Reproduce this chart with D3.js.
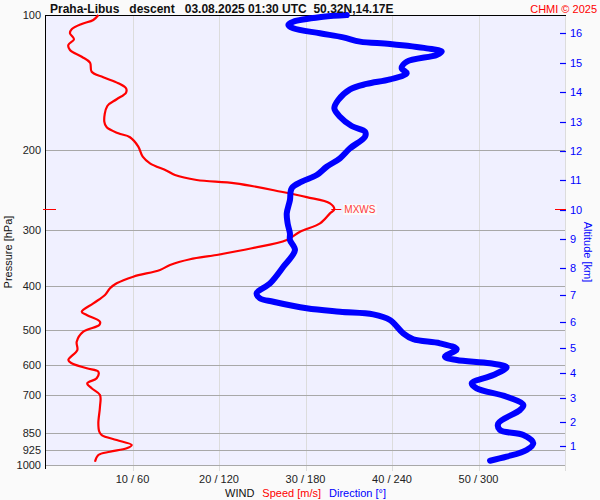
<!DOCTYPE html>
<html><head><meta charset="utf-8">
<script src="https://cdn.jsdelivr.net/npm/d3@7"></script>
<style>
body{margin:0;background:#fafafa;}
text{font-family:Arial,"Liberation Sans",sans-serif;}
</style>
</head><body>
<svg id="c" width="600" height="500"></svg>
<script>
// ---- data ----
const speedPressure = [100,102.6,104.7,107.6,109.8,113.2,116.6,119.6,123.8,127.6,133.7,137.5,141.8,145.5,148.8,153.9,159.3,172.6,177.7,183.2,186.9,196.1,206.5,213.6,221.8,226.8,232.6,236.6,247.0,253.9,262.1,270.3,275.9,290.4,303.1,316.2,329.9,341.4,349.0,359.4,368.6,381.5,394.7,404.9,419.0,437.2,456.4,464.2,480.4,488.6,505.6,532.2,555.3,584.5,594.3,609.7,620.4,641.7,658.3,675.4,699.0,742.1,808.0,843.4,857.8,880.2,902.7,918.1,934.2,950.2,983.3];
const speedValues = [6.05,5.47,4.13,2.97,2.77,3.24,2.58,2.77,4.13,5.09,5.28,6.62,8.36,9.25,9.25,8.17,7.09,6.74,7.02,8.36,9.71,10.67,11.18,12.02,13.95,14.91,17.42,21.9,27.2,30.14,32.83,33.33,32.83,31.68,29.36,27.83,23.8,19.73,16.65,14.34,13.18,10.09,8.17,7.4,6.82,5.47,4.13,4.71,6.24,6.16,4.31,3.55,3.62,2.58,2.97,4.71,6.05,5.86,4.77,5.28,6.24,6.24,6.05,6.16,6.44,8.17,9.91,9.33,7.4,6.05,5.66];
const dirPressure = [100,100.9,103.5,105.2,107.0,109.8,112.1,114.6,116.0,118.6,120.6,122.7,127.0,131.3,134.7,139.0,142.3,146.3,154.5,161.2,168.3,176.5,181.7,186.4,197.8,208.2,217.4,226.8,234.6,242.7,257.8,275.9,290.4,305.6,316.2,332.8,362.6,394.7,415.4,426.3,433.7,448.6,456.4,462.6,476.2,509.7,525.6,536.5,553.2,574.5,584.5,594.3,606.6,631.0,658.3,675.4,705.0,735.6,754.6,808.0,836.2,857.8,894.6,926.0,958.3,978.3];
const dirValues = [208.6,192.3,171.5,168.1,171.5,190.0,206.2,217.8,238.6,264.1,274.5,271.0,250.2,246.7,250.2,238.6,222.4,210.9,202.7,200.0,203.9,212.0,221.3,221.3,210.9,203.9,194.7,187.8,177.4,170.4,169.2,167.0,167.6,169.2,169.2,172.7,164.6,155.4,146.1,148.4,157.7,180.8,203.9,227.0,238.6,247.8,254.8,273.3,284.9,276.7,284.9,308.0,319.5,310.3,295.3,298.7,319.5,331.1,328.8,313.7,314.9,331.1,338.0,333.4,319.5,308.0];
const pressureTicks = [100,200,300,400,500,600,700,850,925,1000];
const windTicks = [10,20,30,40,50,60];
const windTickLabels = ["10 / 60","20 / 120","30 / 180","40 / 240","50 / 300",""];
const altitudeKm = [16,15,14,13,12,11,10,9,8,7,6,5,4,3,2,1];
const altitudePressure = [109.8,127.6,148.1,172.9,200.6,232.6,271.3,315.1,365.5,419.0,481.8,550.6,625.6,710.8,803.9,907.4];
const maxWindPressure = 270.3;
const maxWindSpeed = 33.33;
const titleText = "Praha-Libus   descent   03.08.2025 01:30 UTC  50.32N,14.17E";

// ---- layout ----
const L = 45, R = 565, T = 15, B = 465;
const svg = d3.select("#c");
const y = d3.scaleLog().domain([100,1000]).range([T,B]);
const xs = d3.scaleLinear().domain([0,60]).range([L+1,R]);
const xd = d3.scaleLinear().domain([0,360]).range([L+1,R]);
const c = v => Math.round(v)+0.5;

svg.append("rect").attr("x",L).attr("y",T).attr("width",R-L).attr("height",B-T).attr("fill","#f0f0ff");

// vertical grid
svg.append("g").selectAll("line").data(windTicks).join("line")
  .attr("x1",d=>c(xs(d))).attr("x2",d=>c(xs(d))).attr("y1",T).attr("y2",B+6)
  .attr("stroke","#dcdcdc").attr("stroke-width",1);
// horizontal grid
svg.append("g").selectAll("line").data(pressureTicks.filter(p=>p>100)).join("line")
  .attr("x1",L).attr("x2",R).attr("y1",d=>c(y(d))).attr("y2",d=>c(y(d)))
  .attr("stroke","#a8a8a8").attr("stroke-width",1);

// axes lines
svg.append("line").attr("x1",L).attr("x2",R+1).attr("y1",c(T)).attr("y2",c(T)).attr("stroke","#000");
svg.append("line").attr("x1",c(L)).attr("x2",c(L)).attr("y1",T).attr("y2",B+4).attr("stroke","#000");

// pressure labels
svg.append("g").selectAll("text").data(pressureTicks).join("text")
  .attr("x",41).attr("y",d=>y(d)+4).attr("text-anchor","end")
  .attr("font-size",11).attr("fill","#222").text(d=>d);

// wind tick labels
svg.append("g").selectAll("text").data(windTicks).join("text")
  .attr("x",d=>xs(d)).attr("y",483).attr("text-anchor","middle")
  .attr("font-size",11).attr("fill","#222").text((d,i)=>windTickLabels[i]);

// altitude ticks
const ag = svg.append("g");
ag.selectAll("line").data(altitudePressure).join("line")
  .attr("x1",560).attr("x2",566).attr("y1",d=>c(y(d))).attr("y2",d=>c(y(d)))
  .attr("stroke","#0000ff").attr("stroke-width",1.2);
ag.selectAll("text").data(altitudeKm).join("text")
  .attr("x",570).attr("y",(d,i)=>y(altitudePressure[i])+4)
  .attr("font-size",11).attr("fill","#0000ff").text(d=>d);

// curves
const speedLine = d3.line().x(d=>xs(d[1])).y(d=>y(d[0])).curve(d3.curveCatmullRom.alpha(0.5));
const dirLine = d3.line().x(d=>xd(d[1])).y(d=>y(d[0])).curve(d3.curveCatmullRom.alpha(0.5));
svg.append("path").datum(speedPressure.map((p,i)=>[p,speedValues[i]]))
  .attr("d",speedLine).attr("fill","none").attr("stroke","#ff0000").attr("stroke-width",2.2).attr("stroke-linejoin","round");
svg.append("path").datum(dirPressure.map((p,i)=>[p,dirValues[i]]))
  .attr("d",dirLine).attr("fill","none").attr("stroke","#0000ff").attr("stroke-width",6).attr("stroke-linejoin","round").attr("stroke-linecap","round");

// max wind markers
const ym = c(y(maxWindPressure));
svg.append("line").attr("x1",43).attr("x2",56).attr("y1",ym).attr("y2",ym).attr("stroke","#ff0000");
svg.append("line").attr("x1",555).attr("x2",566).attr("y1",ym).attr("y2",ym).attr("stroke","#ff0000");
svg.append("line").attr("x1",xs(maxWindSpeed)-3).attr("x2",xs(maxWindSpeed)+7).attr("y1",ym).attr("y2",ym).attr("stroke","#ff0000");
const mg = svg.append("g");
const mrect = mg.append("rect").attr("fill","#fafafa");
const mt = mg.append("text").attr("x",xs(maxWindSpeed)+10).attr("y",ym+3.5)
  .attr("font-size",10).attr("fill","#ff3b3b").text("MXWS");
const bb = mt.node().getBBox();
mrect.attr("x",bb.x-1).attr("y",bb.y).attr("width",bb.width+2).attr("height",bb.height);

// titles
svg.append("text").attr("x",50).attr("y",13).attr("font-size",12).attr("font-weight","bold")
  .attr("fill","#111").style("white-space","pre").text(titleText);
svg.append("text").attr("x",597).attr("y",13).attr("text-anchor","end").attr("font-size",11)
  .attr("fill","#ff0000").text("CHMI \u00a9 2025");

svg.append("text").attr("transform","translate(12,252) rotate(-90)").attr("text-anchor","middle")
  .attr("font-size",11).attr("fill","#111").text("Pressure [hPa]");
svg.append("text").attr("transform","translate(584,252) rotate(90)").attr("text-anchor","middle")
  .attr("font-size",11).attr("fill","#0000ff").text("Altitude [km]");

const bl = svg.append("text").attr("x",225).attr("y",497).attr("font-size",11);
bl.append("tspan").attr("fill","#111").text("WIND");
bl.append("tspan").attr("fill","#ff0000").attr("dx",8).text("Speed [m/s]");
bl.append("tspan").attr("fill","#0000ff").attr("dx",8).text("Direction [°]");
</script>
</body></html>
